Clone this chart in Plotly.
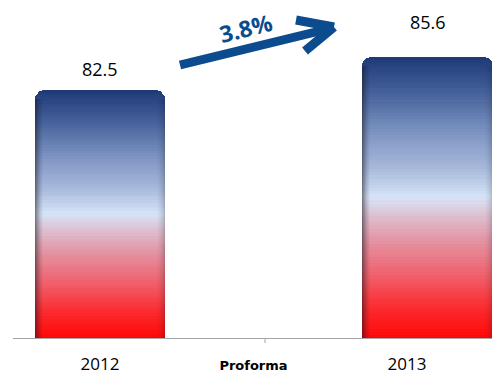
import plotly.graph_objects as go
from plotly.colors import sample_colorscale

# Revenue (in billions) by period
categories = ["2012", "Proforma", "2013"]
bar_categories = ["2012", "2013"]
bar_values = [82.5, 85.6]
growth_label = "3.8%"

# Axis / layout constants
Y_MIN, Y_MAX = 59.4, 90.87
W, H = 492, 374
ML, MR, MT, MB = 13, 0, 0, 36
X_RANGE = [-0.567, 2.554]
BAR_WIDTH = 0.853
BAR_OFFSETS = [-0.4265, -0.29]
CORNER = 9
N_SEG = 90
BLUE = "#0b4b8e"
LABEL_SHIFT = [7, 21]

PX_X = (W - ML - MR) / (X_RANGE[1] - X_RANGE[0])
PX_Y = (H - MT - MB) / (Y_MAX - Y_MIN)

# Vertical fill: bottom (red) -> top (navy)
fill_scale = [
    [0.00, "#ff0a0a"],
    [0.10, "#fb2a2e"],
    [0.22, "#f0606c"],
    [0.35, "#e396a6"],
    [0.44, "#dcc4d4"],
    [0.50, "#d6e4f8"],
    [0.60, "#a9bbdc"],
    [0.74, "#7a91c0"],
    [0.88, "#44609a"],
    [1.00, "#1f3a78"],
]

fig = go.Figure()

# hidden portion of the stack below the visible axis range
fig.add_trace(go.Bar(
    x=bar_categories, y=[Y_MIN] * len(bar_values),
    width=BAR_WIDTH, offset=BAR_OFFSETS,
    marker=dict(color="#ff0a0a", line=dict(width=0)),
    hoverinfo="skip", showlegend=False,
))

seg_colors = sample_colorscale(fill_scale, [i / (N_SEG - 1) for i in range(N_SEG)])
for i in range(N_SEG):
    fig.add_trace(go.Bar(
        x=bar_categories,
        y=[(v - Y_MIN) / N_SEG for v in bar_values],
        width=BAR_WIDTH, offset=BAR_OFFSETS,
        marker=dict(color=seg_colors[i], line=dict(width=0), cornerradius=CORNER),
        hoverinfo="skip", showlegend=False,
    ))

# bevel shading along the side edges (overlaid, since they set a base)
strip_w = 1 / PX_X
edge_top = [v - Y_MIN - CORNER / PX_Y for v in bar_values]
left_alpha = [0.50, 0.40, 0.32, 0.25, 0.18, 0.12, 0.07, 0.03]
right_alpha = [0.22, 0.17, 0.13, 0.10, 0.07, 0.05, 0.03, 0.015]
for k, a in enumerate(left_alpha):
    fig.add_trace(go.Bar(
        x=bar_categories, y=edge_top, base=Y_MIN,
        width=strip_w, offset=[o + k * strip_w for o in BAR_OFFSETS],
        marker=dict(color=f"rgba(20,20,30,{a})", line=dict(width=0)),
        hoverinfo="skip", showlegend=False,
    ))
for k, a in enumerate(right_alpha):
    fig.add_trace(go.Bar(
        x=bar_categories, y=edge_top, base=Y_MIN,
        width=strip_w, offset=[o + BAR_WIDTH - (k + 1) * strip_w for o in BAR_OFFSETS],
        marker=dict(color=f"rgba(20,20,30,{a})", line=dict(width=0)),
        hoverinfo="skip", showlegend=False,
    ))

# value labels above the bars
annotations = []
for cat, val, off, sh in zip(bar_categories, bar_values, BAR_OFFSETS, LABEL_SHIFT):
    annotations.append(dict(
        x=categories.index(cat) + off + BAR_WIDTH / 2, y=val, xref="x", yref="y",
        text=f"{val:.1f}", showarrow=False, yanchor="bottom", yshift=sh,
        font=dict(family="Open Sans", size=18, color="#000000"),
    ))


def px(x, y):
    """pixel position -> paper coordinates of the plot area"""
    return (x - ML) / (W - ML - MR), 1 - (y - MT) / (H - MT - MB)


shapes = []
# growth arrow: shaft + open chevron head
for (x0, y0), (x1, y1) in [((180, 65), (332, 28)), ((296, 20), (334, 27)), ((305, 51), (334, 27))]:
    a0, b0 = px(x0, y0)
    a1, b1 = px(x1, y1)
    shapes.append(dict(type="line", xref="paper", yref="paper",
                       x0=a0, y0=b0, x1=a1, y1=b1,
                       line=dict(color=BLUE, width=9)))
# small tick under the axis
t0 = px(265, 338)
t1 = px(265, 343)
shapes.append(dict(type="line", xref="paper", yref="paper",
                   x0=t0[0], y0=t0[1], x1=t1[0], y1=t1[1],
                   line=dict(color="#a6a6a6", width=1)))

gx, gy = px(246, 28)
annotations.append(dict(
    x=gx, y=gy, xref="paper", yref="paper", text=f"<b>{growth_label}</b>",
    showarrow=False, textangle=-14, xanchor="center", yanchor="middle",
    font=dict(family="Open Sans", size=23, color=BLUE),
))

tick_text = [
    "2012",
    "<span style='font-family:DejaVu Sans;font-size:13px'><b>Proforma</b></span>",
    "2013",
]

fig.update_layout(
    width=W, height=H,
    margin=dict(l=ML, r=MR, t=MT, b=MB),
    paper_bgcolor="white", plot_bgcolor="white",
    barmode="stack", bargap=0,
    showlegend=False,
    xaxis=dict(
        type="category", categoryorder="array", categoryarray=categories,
        tickvals=categories, ticktext=tick_text,
        range=X_RANGE,
        showline=True, linecolor="#a6a6a6", linewidth=1,
        ticks="outside", ticklen=11, tickcolor="rgba(0,0,0,0)",
        showgrid=False, zeroline=False,
        tickfont=dict(family="Open Sans", size=17, color="#000000"),
    ),
    yaxis=dict(range=[Y_MIN, Y_MAX], visible=False, showgrid=False, zeroline=False),
    annotations=annotations,
    shapes=shapes,
)

fig.write_html("out.html")
